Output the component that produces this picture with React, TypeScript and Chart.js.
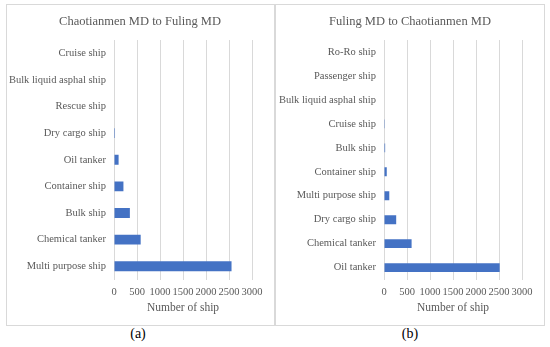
import React, { useEffect, useRef } from "react";
import { Chart, registerables } from "chart.js";

Chart.register(...registerables);

const catsA = [
  "Cruise ship",
  "Bulk liquid asphal ship",
  "Rescue ship",
  "Dry cargo ship",
  "Oil tanker",
  "Container ship",
  "Bulk ship",
  "Chemical tanker",
  "Multi purpose ship",
];
const valsA = [0, 0, 0, 22, 100, 205, 345, 580, 2555];

const catsB = [
  "Ro-Ro ship",
  "Passenger ship",
  "Bulk liquid asphal ship",
  "Cruise ship",
  "Bulk ship",
  "Container ship",
  "Multi purpose ship",
  "Dry cargo ship",
  "Chemical tanker",
  "Oil tanker",
];
const valsB = [0, 0, 0, 18, 25, 60, 115, 265, 600, 2515];

const titleA = "Chaotianmen MD to Fuling MD";
const titleB = "Fuling MD to Chaotianmen MD";
const axisTitle = "Number of ship";
const xMax = 3000;
const xStep = 500;

const FONT = "'Liberation Serif', 'Times New Roman', serif";
const GREY = "#595959";
const BLUE = "#4472C4";
const GRID = "#D9D9D9";

function Panel(props: { cats: string[]; vals: number[]; title: string; yWidth: number; padRight: number }) {
  const ref = useRef<HTMLCanvasElement | null>(null);
  useEffect(() => {
    if (!ref.current) return;
    const chart = new Chart(ref.current, {
      type: "bar",
      data: {
        labels: props.cats,
        datasets: [
          {
            data: props.vals,
            backgroundColor: BLUE,
            borderWidth: 0,
            barPercentage: 0.37,
            categoryPercentage: 1,
          },
        ],
      },
      options: {
        indexAxis: "y",
        animation: false,
        responsive: false,
        maintainAspectRatio: false,
        layout: { padding: { top: 9, right: 0, bottom: 8, left: 0 } },
        plugins: {
          legend: { display: false },
          tooltip: { enabled: false },
          title: {
            display: true,
            text: props.title,
            color: GREY,
            font: { family: FONT, size: 12.5, weight: "normal" },
            padding: { top: 0, bottom: 11 },
          },
        },
        scales: {
          x: {
            min: 0,
            max: xMax,
            ticks: {
              stepSize: xStep,
              color: GREY,
              font: { family: FONT, size: 10.5 },
              padding: 6,
              maxRotation: 0,
              callback: (v: any) => String(v),
            },
            grid: { color: GRID, drawTicks: false, lineWidth: 1 },
            border: { display: false },
            title: {
              display: true,
              text: axisTitle,
              color: GREY,
              font: { family: FONT, size: 11.5 },
              padding: { top: -3, bottom: 0 },
            },
            afterFit: (scale: any) => {
              scale.paddingRight = props.padRight;
            },
          },
          y: {
            ticks: { color: GREY, font: { family: FONT, size: 10.5 }, padding: 8, autoSkip: false },
            grid: { display: false, drawTicks: false },
            border: { display: false },
            afterFit: (scale: any) => {
              scale.width = props.yWidth;
            },
          },
        },
      },
    } as any);
    return () => chart.destroy();
  }, []);
  return <canvas ref={ref} width={266} height={318} style={{ display: "block", width: 266, height: 318 }} />;
}

export default function App() {
  return (
    <div style={{ position: "fixed", left: 0, top: 0, width: 550, height: 347, background: "#fff", overflow: "hidden" }}>
      <div
        style={{
          position: "absolute",
          left: 6,
          top: 4,
          width: 537,
          height: 320,
          border: "1px solid #D9D9D9",
          boxSizing: "content-box",
        }}
      />
      <div style={{ position: "absolute", left: 274, top: 4, width: 2, height: 321, background: "#D9D9D9" }} />
      <div style={{ position: "absolute", left: 7, top: 5 }}>
        <Panel cats={catsA} vals={valsA} title={titleA} yWidth={107} padRight={21} />
      </div>
      <div style={{ position: "absolute", left: 277, top: 5 }}>
        <Panel cats={catsB} vals={valsB} title={titleB} yWidth={107} padRight={21} />
      </div>
      <div style={{ position: "absolute", left: 128, top: 326, width: 20, textAlign: "center", font: `14px ${FONT}`, color: "#000" }}>
        (a)
      </div>
      <div style={{ position: "absolute", left: 400, top: 326, width: 20, textAlign: "center", font: `14px ${FONT}`, color: "#000" }}>
        (b)
      </div>
    </div>
  );
}
